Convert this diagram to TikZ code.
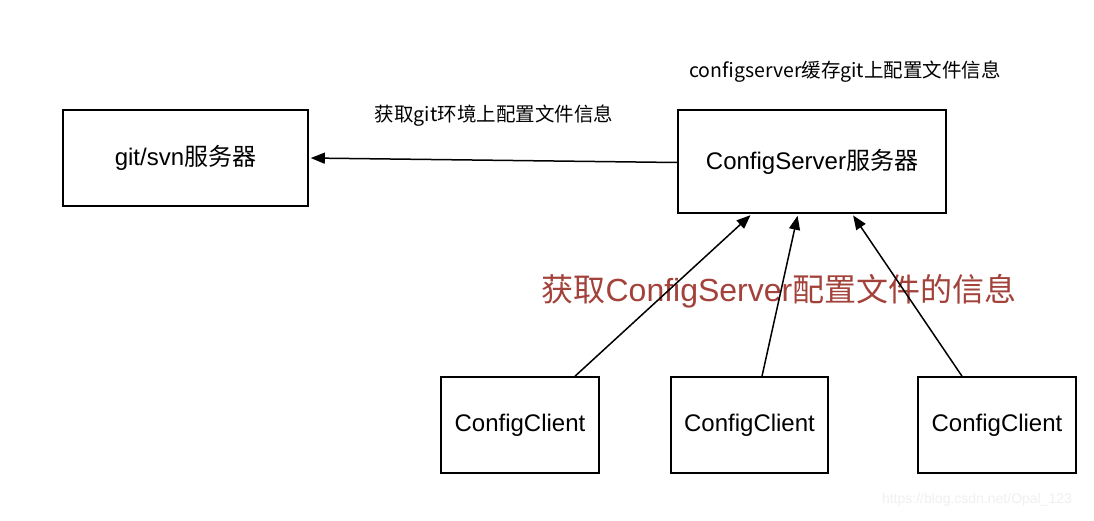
\documentclass[tikz,border=0pt]{standalone}
\usepackage{fontspec}
\setmainfont{Liberation Sans}
\newfontfamily\cjk{Noto Sans CJK SC}
\usetikzlibrary{arrows.meta}
\definecolor{redtxt}{RGB}{163,66,58}
\definecolor{wmark}{RGB}{240,240,240}
\tikzset{
  box/.style={draw=black, line width=1.6pt, inner sep=0pt, font=\fontsize{24}{27}\selectfont},
  conn/.style={line width=1.5pt, -{Triangle[length=14pt,width=11pt]}, shorten >=2pt},
  lbl/.style={inner sep=0pt, font=\fontsize{19.5}{22}\selectfont},
}
\begin{document}
\begin{tikzpicture}[x=1pt,y=-1pt]
\useasboundingbox[fill=white] (0,0) rectangle (1094,520);
\node[box, minimum width=245pt, minimum height=96pt] (git) at (185.5,158) {\raisebox{-2pt}{git/svn{\cjk 服务器}}};
\node[box, minimum width=268pt, minimum height=103pt] (srv) at (812,161.5) {\raisebox{-2pt}{ConfigServer{\cjk 服务器}}};
\node[box, minimum width=158pt, minimum height=96pt] (c1) at (520,425) {\raisebox{-2pt}{ConfigClient}};
\node[box, minimum width=157pt, minimum height=96pt] (c2) at (749.5,425) {\raisebox{-2pt}{ConfigClient}};
\node[box, minimum width=158pt, minimum height=96pt] (c3) at (997,425) {\raisebox{-2pt}{ConfigClient}};
\node[lbl] (l1) at (494,116) {\cjk 获取git环境上配置文件信息};
\node[lbl] (l2) at (845,72) {\cjk configserver缓存git上配置文件信息};
\node[inner sep=0pt, text=redtxt, font=\fontsize{32}{36}\selectfont] (l3) at (779,291) {{\cjk 获取}ConfigServer{\cjk 配置文件的信息}};
\node[inner sep=0pt, text=wmark, font=\fontsize{14}{16}\selectfont] (wm) at (977,500) {https://blog.csdn.net/Opal\_123};
\draw[conn] ([yshift=-1pt]srv.west) -- (git.east);
\draw[conn] ([xshift=55pt]c1.north) -- ([xshift=-60pt]srv.south);
\draw[conn] ([xshift=12.5pt]c2.north) -- ([xshift=-14pt]srv.south);
\draw[conn] ([xshift=-35pt]c3.north) -- ([xshift=40pt]srv.south);
\end{tikzpicture}
\end{document}
